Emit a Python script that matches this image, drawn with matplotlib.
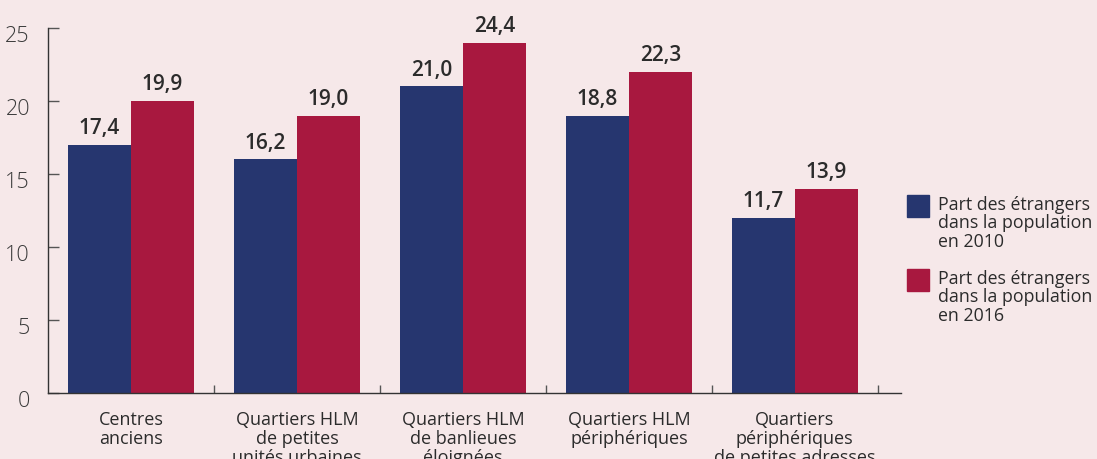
import numpy as np
import matplotlib.pyplot as plt
from matplotlib.patches import Rectangle
from matplotlib.transforms import ScaledTranslation

# categories and values (labels show decimals, bars are drawn rounded as in the source)
categories = ["Centres\nanciens",
              "Quartiers HLM\nde petites\nunités urbaines",
              "Quartiers HLM\nde banlieues\néloignées",
              "Quartiers HLM\npériphériques",
              "Quartiers\npériphériques\nde petites adresses"]
part_2010 = [17.4, 16.2, 21.0, 18.8, 11.7]
part_2016 = [19.9, 19.0, 24.4, 22.3, 13.9]
series_labels = ["Part des étrangers\ndans la population\nen 2010",
                 "Part des étrangers\ndans la population\nen 2016"]
y_ticks = [0, 5, 10, 15, 20, 25]

colors = ["#26366F", "#A8183F"]
bg = "#F6E8E9"
txt = "#2B2B2B"
plt.rcParams['font.family'] = ['Open Sans', 'DejaVu Sans']

fig = plt.figure(figsize=(10.97, 4.59), dpi=100, facecolor=bg)
ax = fig.add_axes([48 / 1097, 66 / 459, 853 / 1097, 365 / 459])
ax.set_facecolor(bg)

x = np.arange(len(categories))
w = 0.38
series = [part_2010, part_2016]
for k, vals in enumerate(series):
    pos = x + (k - 0.5) * w
    bars = ax.bar(pos, np.round(vals), width=w, color=colors[k], zorder=2)
    ax.bar_label(bars, labels=[f"{v:.1f}".replace(".", ",") for v in vals],
                 padding=4, fontsize=15, fontweight='semibold', color=txt,
                 clip_on=False)

ax.set_xlim(-0.5, 4.64)
ax.set_ylim(0, 25)
ax.set_yticks(y_ticks)
ax.set_yticklabels([str(t) for t in y_ticks], fontsize=15.5, color="#3A3A3A",
                   fontweight='light')
ax.set_xticks(x)
ax.set_xticklabels(categories, fontsize=13, color=txt, linespacing=1.08,
                   va='top', fontweight='medium')
ax.set_xticks(x + 0.5, minor=True)
ax.tick_params(axis='x', which='major', length=0, pad=13)
ax.tick_params(axis='x', which='minor', direction='in', length=6,
               width=1, color="#555555")
ax.tick_params(axis='y', direction='in', length=8, width=1,
               color="#555555", pad=13)

for lab in ax.get_yticklabels():
    lab.set_transform(lab.get_transform() +
                      ScaledTranslation(0, -6 / 100, fig.dpi_scale_trans))

for s in ['top', 'right']:
    ax.spines[s].set_visible(False)
for s in ['left', 'bottom']:
    ax.spines[s].set_color("#333333")
    ax.spines[s].set_linewidth(1)

# legend drawn by hand to keep the square next to the first text line
legend_tops = [195, 269]
for k, lab in enumerate(series_labels):
    top = legend_tops[k]
    fig.add_artist(Rectangle((907 / 1097, 1 - (top + 22) / 459),
                             22 / 1097, 22 / 459, color=colors[k],
                             transform=fig.transFigure))
    fig.text(938 / 1097, 1 - (top + 1) / 459, lab, fontsize=12.8, color=txt,
             va='top', ha='left', linespacing=1.02, fontweight='medium')

fig.savefig("out.png", dpi=100, facecolor=bg)
